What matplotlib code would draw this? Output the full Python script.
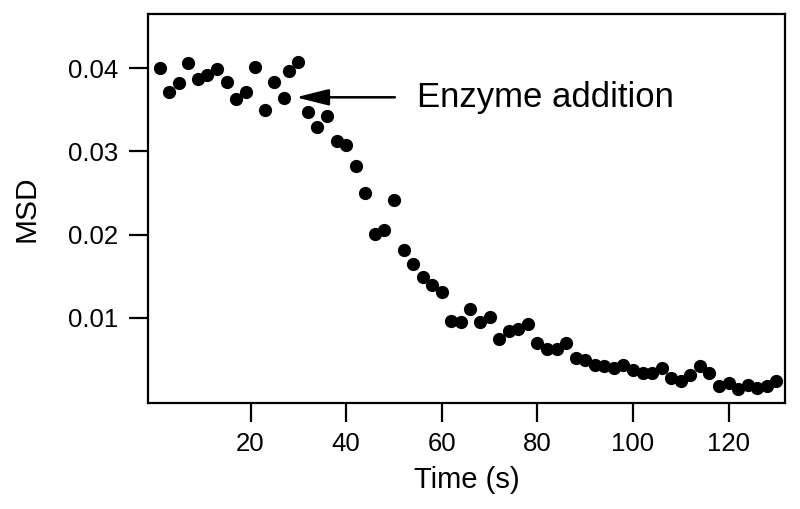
import matplotlib
matplotlib.use("Agg")
import matplotlib.pyplot as plt

plt.rcParams['font.family'] = ['Liberation Sans', 'DejaVu Sans']

time_s = [1, 3, 5, 7, 9, 11, 13, 15, 17, 19, 21, 23, 25, 27, 28,
          30, 32, 34, 36, 38, 40, 42, 44, 46, 48, 50, 52, 54, 56, 58, 60,
          62, 64, 66, 68, 70, 72, 74, 76, 78, 80, 82, 84, 86, 88, 90,
          92, 94, 96, 98, 100, 102, 104, 106, 108, 110, 112, 114, 116, 118, 120,
          122, 124, 126, 128, 130]
msd = [0.0400, 0.0372, 0.0382, 0.0406, 0.0387, 0.0392, 0.0399, 0.0384, 0.0363, 0.0371,
       0.0402, 0.0350, 0.0383, 0.0364, 0.0397,
       0.0407, 0.0347, 0.0329, 0.0343, 0.0312, 0.0308, 0.0282, 0.0250, 0.0201, 0.0206,
       0.0241, 0.0181, 0.0165, 0.0149, 0.0139, 0.0131,
       0.0096, 0.0095, 0.0111, 0.0095, 0.0101, 0.0074, 0.0084, 0.0087, 0.0093, 0.0070,
       0.0062, 0.0062, 0.0070, 0.0052, 0.0049,
       0.0043, 0.0042, 0.0040, 0.0043, 0.0037, 0.0034, 0.0034, 0.0040, 0.0027, 0.0024,
       0.0031, 0.0042, 0.0034, 0.0018, 0.0021,
       0.0014, 0.0019, 0.0016, 0.0018, 0.0024]

x_ticks = [20, 40, 60, 80, 100, 120]
y_ticks = [0.01, 0.02, 0.03, 0.04]
y_tick_labels = ['0.01', '0.02', '0.03', '0.04']
annotation = 'Enzyme addition'

fig = plt.figure(figsize=(8.0, 5.09), dpi=100)
ax = fig.add_axes([0.1856, 0.2092, 0.7957, 0.7633])

ax.plot(time_s, msd, 'o', color='black', markersize=8.5, linestyle='none')

ax.set_xlim(-1.34, 131.8)
ax.set_ylim(-0.0002, 0.04653)
ax.set_xticks(x_ticks)
ax.set_xticklabels([str(v) for v in x_ticks])
ax.set_yticks(y_ticks)
ax.set_yticklabels(y_tick_labels)

for sp in ax.spines.values():
    sp.set_linewidth(1.6)
    sp.set_color('black')

ax.tick_params(axis='both', direction='out', length=13.5, width=1.6,
               labelsize=18.5, pad=8, color='black')

ax.set_xlabel('Time (s)', fontsize=21, labelpad=7)
ax.set_ylabel('MSD', fontsize=21.5, labelpad=20)

ax.annotate('', xy=(29.5, 0.03651), xytext=(50.2, 0.03651),
            arrowprops=dict(arrowstyle='-|>,head_length=2.0,head_width=0.5',
                            color='black', lw=1.8, shrinkA=0, shrinkB=0))
ax.text(54.8, 0.03651, annotation, fontsize=25, va='center', ha='left')

fig.savefig('out.png', dpi=100)
